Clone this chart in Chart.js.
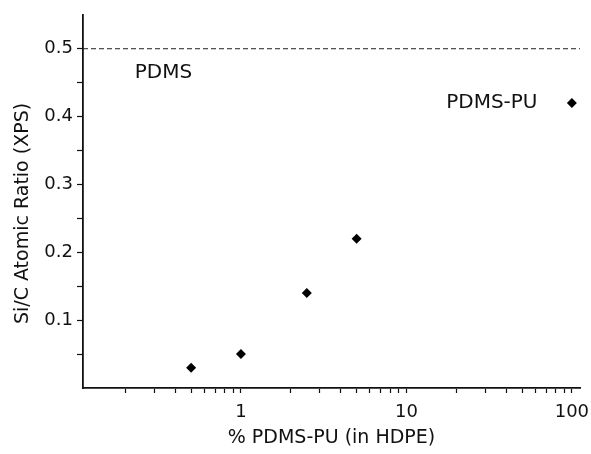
<!DOCTYPE html>
<html>
<head>
<meta charset="utf-8">
<script src="https://cdn.jsdelivr.net/npm/chart.js@4.4.1/dist/chart.umd.min.js"></script>
<style>
  html, body { margin: 0; padding: 0; background: #fff; }
  #wrap { width: 591px; height: 454px; }
</style>
</head>
<body>
<div id="wrap"><canvas id="myChart" width="591" height="454"></canvas></div>
<script>
// data
const pctPdmsPu = [0.5, 1, 2.5, 5, 100];
const siCRatio = [0.03, 0.05, 0.14, 0.22, 0.42];
const pdmsLevel = 0.5;
const xMin = 0.111, xMax = 112;
const yMin = 0, yMax = 0.55;
const xTicks = [0.2, 0.3, 0.4, 0.5, 0.6, 0.7, 0.8, 0.9, 1, 2, 3, 4, 5, 6, 7, 8, 9, 10, 20, 30, 40, 50, 60, 70, 80, 90, 100];
const xLabels = [1, 10, 100];
const yTicks = [0.05, 0.1, 0.15, 0.2, 0.25, 0.3, 0.35, 0.4, 0.45, 0.5];
const yLabels = [0.1, 0.2, 0.3, 0.4, 0.5];
const notes = [
    { text: 'PDMS', x: 0.228, y: 0.465, align: 'left' },
    { text: 'PDMS-PU', x: 62, y: 0.421, align: 'right' }
];

const font = 'DejaVu Sans, Verdana, sans-serif';

const notesPlugin = {
    id: 'notes',
    afterDatasetsDraw(chart) {
        const ctx = chart.ctx;
        const xs = chart.scales.x, ys = chart.scales.y;
        ctx.save();
        ctx.fillStyle = '#111';
        ctx.font = '20px ' + font;
        ctx.textBaseline = 'middle';
        notes.forEach(n => {
            ctx.textAlign = n.align;
            ctx.fillText(n.text, xs.getPixelForValue(n.x), ys.getPixelForValue(n.y));
        });
        ctx.restore();
    }
};

const near = (a, list) => list.some(v => Math.abs(v - a) < 1e-9);

new Chart(document.getElementById('myChart').getContext('2d'), {
    type: 'scatter',
    data: {
        datasets: [
            {
                label: 'PDMS-PU',
                data: pctPdmsPu.map((x, i) => ({ x: x, y: siCRatio[i] })),
                pointStyle: 'rectRot',
                pointRadius: 5,
                backgroundColor: '#000',
                borderColor: '#000',
                borderWidth: 0
            },
            {
                label: 'PDMS',
                type: 'line',
                data: [{ x: xMin, y: pdmsLevel }, { x: xMax, y: pdmsLevel }],
                borderColor: '#222',
                borderWidth: 1,
                borderDash: [5, 3],
                pointRadius: 0
            }
        ]
    },
    options: {
        responsive: false,
        animation: false,
        layout: { padding: { top: 12, right: 11, left: 0, bottom: 0 } },
        plugins: { legend: { display: false }, tooltip: { enabled: false } },
        scales: {
            x: {
                type: 'logarithmic',
                min: xMin,
                max: xMax,
                afterBuildTicks(scale) {
                    scale.ticks = xTicks.map(v => ({ value: v }));
                },
                afterFit(scale) {
                    scale.height = 66;
                    // let the "100" label run past the plot edge, as in the figure
                    scale.paddingLeft = 0;
                    scale.paddingRight = 0;
                },
                ticks: {
                    color: '#111',
                    font: { family: font, size: 18 },
                    padding: 9,
                    autoSkip: false,
                    maxRotation: 0,
                    callback(value) { return near(value, xLabels) ? String(value) : ''; }
                },
                grid: {
                    drawOnChartArea: false,
                    tickLength: 5,
                    tickColor: '#111',
                    tickWidth: 1.2
                },
                border: { display: true, color: '#111', width: 1.8 },
                title: {
                    display: true,
                    text: '% PDMS-PU (in HDPE)',
                    color: '#111',
                    font: { family: font, size: 19 },
                    padding: { top: 0, bottom: 5 }
                }
            },
            y: {
                min: yMin,
                max: yMax,
                afterBuildTicks(scale) {
                    scale.ticks = yTicks.map(v => ({ value: v }));
                },
                afterFit(scale) { scale.width = 83; },
                ticks: {
                    color: '#111',
                    font: { family: font, size: 18 },
                    padding: 4,
                    autoSkip: false,
                    callback(value) { return near(value, yLabels) ? value.toFixed(1) : ''; }
                },
                grid: {
                    drawOnChartArea: false,
                    tickLength: 6,
                    tickColor: '#111',
                    tickWidth: 1.2
                },
                border: { display: true, color: '#111', width: 1.8 },
                title: {
                    display: true,
                    text: 'Si/C Atomic Ratio (XPS)    ',
                    color: '#111',
                    font: { family: font, size: 19 },
                    padding: { top: 12, bottom: 0 }
                }
            }
        }
    },
    plugins: [notesPlugin]
});
</script>
</body>
</html>
